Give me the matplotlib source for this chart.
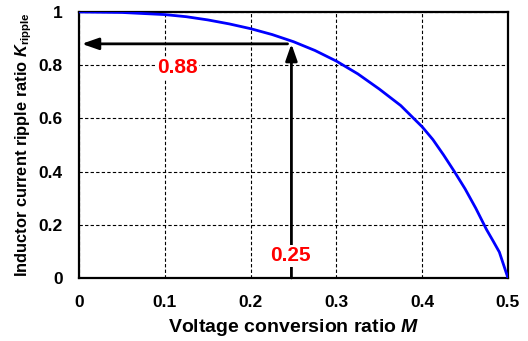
import numpy as np
import matplotlib
matplotlib.use('Agg')
import matplotlib.pyplot as plt

# Datos
M = [0, 0.05, 0.1, 0.125, 0.15, 0.175, 0.2, 0.225, 0.25, 0.275, 0.3, 0.325, 0.35, 0.375,
     0.4, 0.4125, 0.425, 0.4375, 0.45, 0.4625, 0.475, 0.4825, 0.49, 0.5]
K = [1.0, 0.998, 0.99, 0.982, 0.97, 0.955, 0.937, 0.915, 0.888, 0.855, 0.815, 0.767, 0.71, 0.648,
     0.568, 0.52, 0.462, 0.40, 0.335, 0.262, 0.182, 0.14, 0.097, 0.0]
x_ticks = [0, 0.1, 0.2, 0.3, 0.4, 0.5]
x_labels = ['0', '0.1', '0.2', '0.3', '0.4', '0.5']
y_ticks = [0, 0.2, 0.4, 0.6, 0.8, 1.0]
y_labels = ['0', '0.2', '0.4', '0.6', '0.8', '1']
M_op = 0.25
K_op = 0.88

plt.rcParams['font.family'] = 'Liberation Sans'
plt.rcParams['font.weight'] = 'bold'
plt.rcParams['mathtext.fontset'] = 'custom'
plt.rcParams['mathtext.rm'] = 'Liberation Sans'
plt.rcParams['mathtext.it'] = 'Liberation Sans:italic'
plt.rcParams['mathtext.bf'] = 'Liberation Sans:bold'
plt.rcParams['mathtext.bfit'] = 'Liberation Sans:bold:italic'

fig = plt.figure(figsize=(5.28, 3.41), dpi=100)
ax = fig.add_axes([0.150, 0.185, 0.812, 0.780])

ax.plot(M, K, color='#0000FF', lw=2.0, zorder=3)

ax.set_xlim(0, 0.5)
ax.set_ylim(0, 1)
ax.set_xticks(x_ticks)
ax.set_xticklabels(x_labels)
ax.set_yticks(y_ticks)
ax.set_yticklabels(y_labels)
ax.tick_params(length=0, labelsize=12.5, pad=12)
ax.grid(True, color='black', linestyle=(0, (3, 2)), lw=0.8)
for s in ax.spines.values():
    s.set_linewidth(1.6)

ax.set_xlabel(r'Voltage conversion ratio $\mathbfit{M}$', fontsize=14, fontweight='bold', labelpad=5)
ax.set_ylabel(r'Inductor current ripple ratio $\mathbfit{K}_{\mathrm{ripple}}$', fontsize=11.8, fontweight='bold', labelpad=3)

# Flechas
estilo = '-|>,head_length=1.0,head_width=0.35'
ax.annotate('', xy=(0.003, K_op), xytext=(0.243, K_op),
            arrowprops=dict(arrowstyle=estilo, color='black', lw=2, shrinkA=0, shrinkB=0), zorder=4)
ax.annotate('', xy=(0.2475, K_op), xytext=(0.2475, 0.0),
            arrowprops=dict(arrowstyle=estilo, color='black', lw=2, shrinkA=0, shrinkB=0), zorder=4)

ax.text(0.114, 0.79, '0.88', color='red', fontsize=15, fontweight='bold', ha='center', va='center',
        bbox=dict(facecolor='white', edgecolor='none', pad=1), zorder=5)
ax.text(0.2465, 0.083, '0.25', color='red', fontsize=15, fontweight='bold', ha='center', va='center',
        bbox=dict(facecolor='white', edgecolor='none', pad=1), zorder=5)

fig.savefig('out.png', dpi=100)
